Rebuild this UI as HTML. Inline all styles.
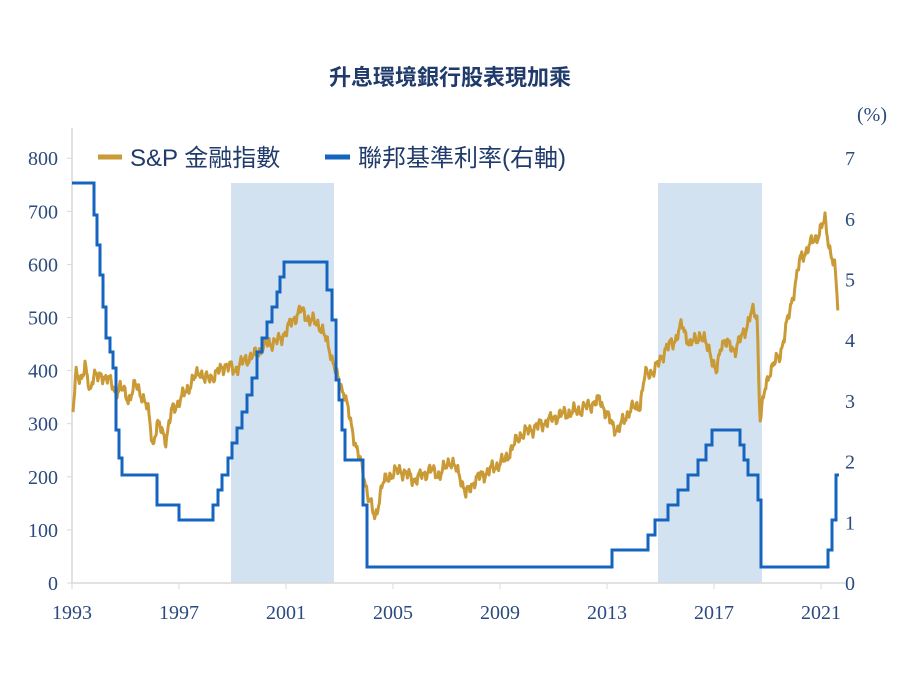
<!DOCTYPE html>
<html><head><meta charset="utf-8"><style>
body{margin:0;background:#fff;}
svg{display:block;}
.t{font-family:"Liberation Serif",serif;font-size:20px;fill:#2b4a7e;}
.l{font-family:"Liberation Sans","Noto Sans CJK TC",sans-serif;font-size:24px;fill:#1f3a6b;}
</style></head><body>
<svg id="s" width="900" height="675" viewBox="0 0 900 675" xmlns="http://www.w3.org/2000/svg">
<text x="450" y="85" text-anchor="middle" font-family="Liberation Sans,'Noto Sans CJK TC',sans-serif" font-size="22" font-weight="bold" fill="#1f3a6b">升息環境銀行股表現加乘</text>
<rect x="231" y="183" width="103" height="400" fill="#d3e2f1"/>
<rect x="658" y="183" width="104" height="400" fill="#d3e2f1"/>
<line x1="72" y1="128" x2="72" y2="584" stroke="#d9d9d9" stroke-width="1.5"/>
<line x1="72" y1="583" x2="845" y2="583" stroke="#d9d9d9" stroke-width="1.5"/>
<g id="ticks"></g>
<path id="gold" fill="none" stroke="#c99a35" stroke-width="3" stroke-linejoin="round"/>
<path id="blue" fill="none" stroke="#1565c0" stroke-width="3"/>
<line x1="98" y1="157" x2="122" y2="157" stroke="#c99a35" stroke-width="5"/>
<text x="130" y="166" class="l">S&amp;P 金融指數</text>
<line x1="325" y1="157" x2="350" y2="157" stroke="#1565c0" stroke-width="5"/>
<text x="358" y="166" class="l">聯邦基準利率(右軸)</text>
<text x="872" y="121" class="t" text-anchor="middle">(%)</text>
</svg>
<script>
var g=document.getElementById('ticks'),h='';
for(var i=0;i<=8;i++){var y=583-i*53.1;h+='<text class="t" x="58" y="'+(y+7)+'" text-anchor="end">'+(i*100)+'</text><line x1="67" x2="72" y1="'+y+'" y2="'+y+'" stroke="#d9d9d9"/>';}
for(var i=0;i<=7;i++){var y=583-i*60.7;h+='<text class="t" x="845" y="'+(y+7)+'">'+i+'</text>';}
var yrs=[1993,1997,2001,2005,2009,2013,2017,2021];
yrs.forEach(function(yr){var x=72+(yr-1993)*26.75;h+='<text class="t" x="'+x+'" y="619" text-anchor="middle">'+yr+'</text><line x1="'+x+'" x2="'+x+'" y1="583" y2="589" stroke="#d9d9d9"/>';});
g.innerHTML=h;
var b=[[72,183],[94,183],[94,215],[97,215],[97,245],[100,245],[100,275],[103,275],[103,307],[106,307],[106,338],[110,338],[110,352],[113,352],[113,368],[116,368],[116,430],[119,430],[119,458],[122,458],[122,475],[157,475],[157,505],[179,505],[179,520],[213,520],[213,505],[218,505],[218,490],[222,490],[222,475],[228,475],[228,458],[232,458],[232,443],[237,443],[237,428],[242,428],[242,412],[247,412],[247,395],[252,395],[252,378],[257,378],[257,352],[262,352],[262,338],[267,338],[267,322],[272,322],[272,307],[277,307],[277,292],[280,292],[280,277],[284,277],[284,262],[327,262],[327,290],[332,290],[332,320],[336,320],[336,380],[339,380],[339,400],[342,400],[342,430],[345,430],[345,460],[363,460],[363,505],[367,505],[367,567],[612,567],[612,550],[648,550],[648,535],[655,535],[655,520],[668,520],[668,505],[678,505],[678,490],[688,490],[688,475],[698,475],[698,460],[706,460],[706,445],[712,445],[712,430],[740,430],[740,445],[744,445],[744,460],[748,460],[748,475],[758,475],[758,500],[761,500],[761,567],[828,567],[828,550],[832,550],[832,520],[836,520],[836,475],[839,475]];
document.getElementById('blue').setAttribute('d','M'+b.map(function(p){return p.join(',')}).join(' L'));
var k=[[73,410],[76,375],[80,380],[85,365],[90,395],[94,370],[100,380],[108,375],[115,395],[120,385],[128,400],[135,385],[142,395],[148,410],[153,445],[157,425],[162,430],[166,440],[172,410],[180,400],[190,385],[200,370],[205,380],[215,375],[225,365],[235,370],[245,360],[255,355],[265,345],[280,340],[290,325],[300,310],[310,320],[320,325],[330,350],[338,380],[345,395],[352,430],[360,460],[367,490],[375,520],[382,485],[390,475],[400,470],[415,480],[430,470],[440,475],[450,460],[460,475],[466,495],[475,480],[490,470],[505,460],[520,435],[540,425],[560,415],[580,410],[600,400],[612,425],[618,430],[630,410],[640,405],[645,375],[655,370],[665,350],[675,340],[682,325],[690,345],[700,335],[710,350],[716,375],[722,340],[735,350],[745,330],[752,312],[757,315],[760,420],[765,390],[770,370],[780,355],[790,310],[800,260],[810,245],[818,235],[825,220],[830,250],[835,270],[838,308]];
var pts=[],j=0;
for(var x=73;x<=838;x+=0.8){while(j<k.length-2&&k[j+1][0]<x)j++;var a=k[j],c=k[j+1];var t=Math.max(0,Math.min(1,(x-a[0])/(c[0]-a[0])));var y=a[1]+(c[1]-a[1])*t;
y+=3.5*Math.sin(x*1.3)+2.5*Math.sin(x*2.7+1)+3*Math.sin(x*0.53+2);pts.push(x.toFixed(1)+','+y.toFixed(1));}
document.getElementById('gold').setAttribute('d','M'+pts.join(' L'));
</script>
</body></html>
